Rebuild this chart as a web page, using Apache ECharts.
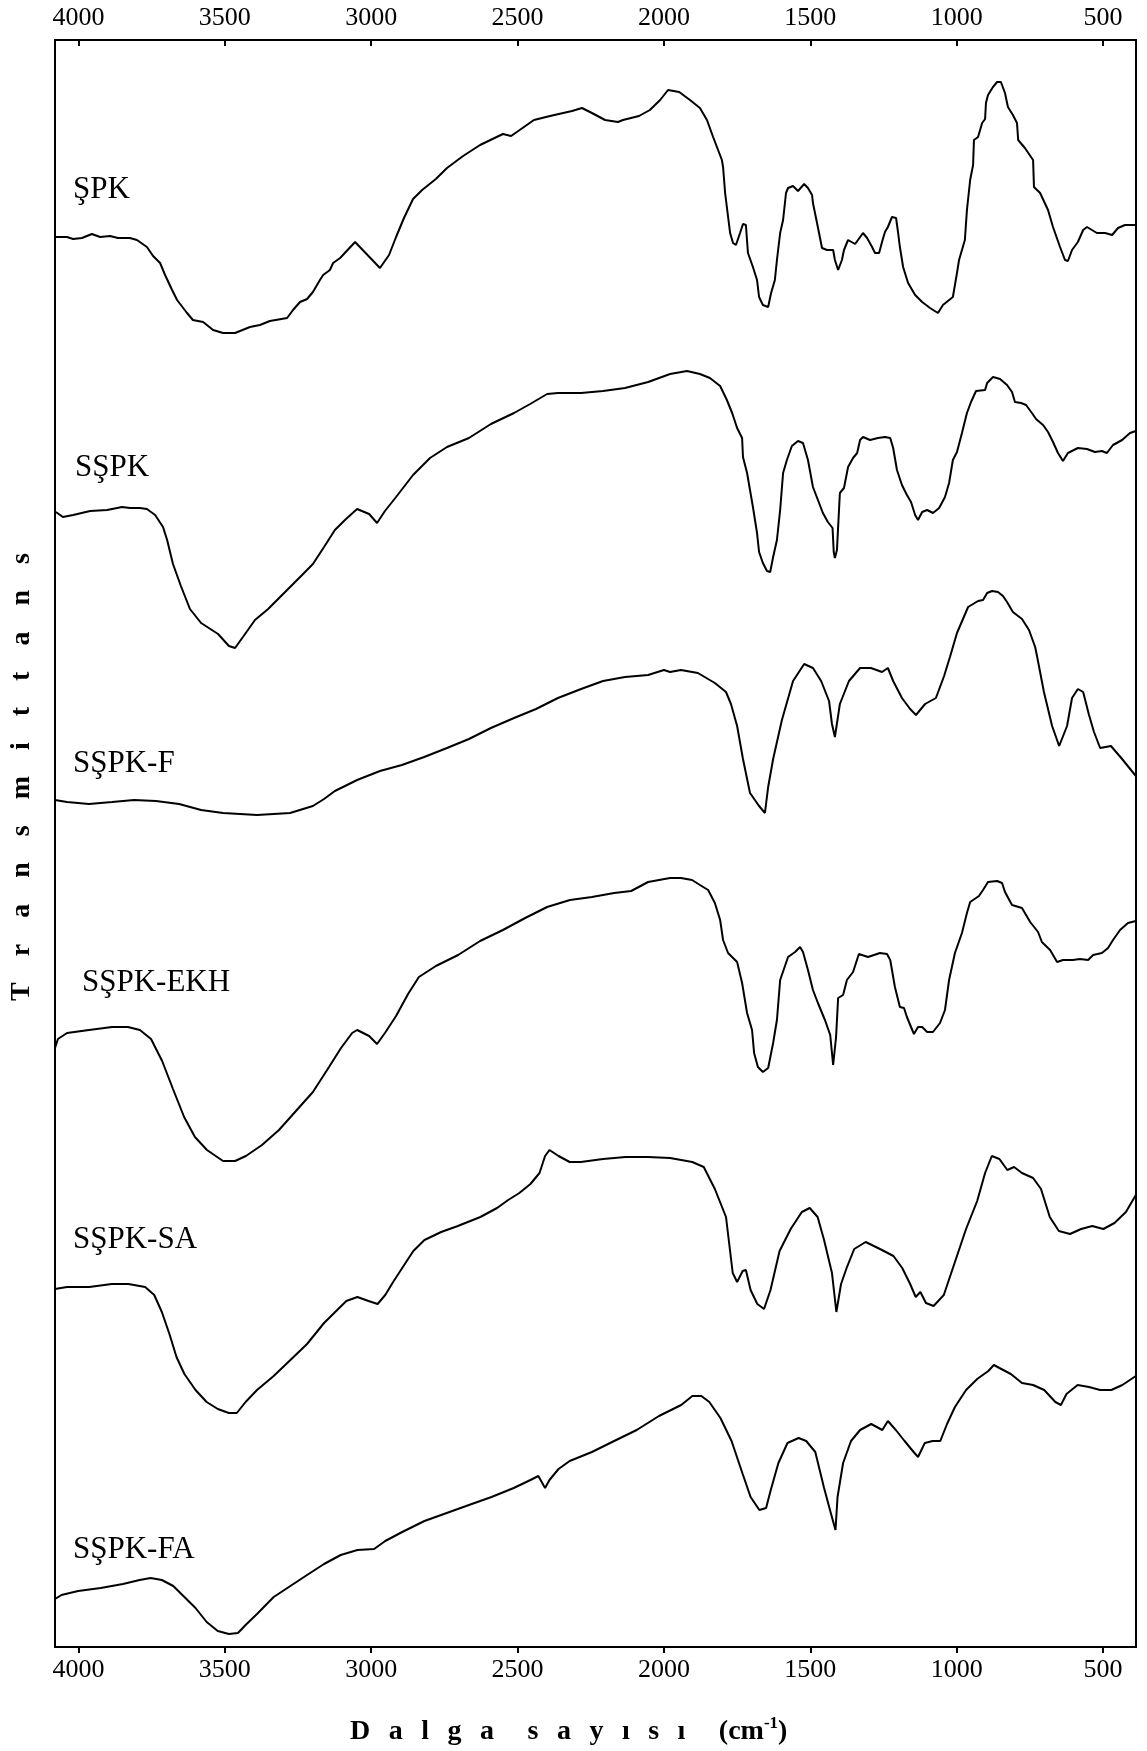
<!DOCTYPE html>
<html>
<head>
<meta charset="utf-8">
<script src="https://cdn.jsdelivr.net/npm/echarts@6/dist/echarts.min.js"></script>
<style>
  html, body { margin: 0; padding: 0; background: #fff; }
  #chart { width: 1147px; height: 1751px; }
</style>
</head>
<body>
<div id="chart"></div>
<script>
// FTIR spectra, stacked with arbitrary vertical offsets: [wavenumber (cm-1), transmittance (a.u.)]
const tickValues = [4000, 3500, 3000, 2500, 2000, 1500, 1000, 500];
const seriesNames = ['ŞPK', 'SŞPK', 'SŞPK-F', 'SŞPK-EKH', 'SŞPK-SA', 'SŞPK-FA'];

const spk = [[4077,141.0],[4039,141.0],[4018,140.8],[3988,140.9],[3954,141.3],[3926,141.0],[3892,141.1],[3865,140.9],[3824,140.9],[3800,140.7],[3766,140.0],[3745,139.1],[3721,138.4],[3704,137.2],[3680,135.7],[3663,134.7],[3629,133.4],[3609,132.7],[3574,132.5],[3540,131.7],[3506,131.4],[3465,131.4],[3448,131.6],[3414,132.0],[3380,132.2],[3346,132.6],[3287,132.9],[3267,133.7],[3243,134.5],[3219,134.8],[3199,135.5],[3175,136.7],[3164,137.2],[3141,137.7],[3130,138.4],[3106,138.9],[3055,140.5],[2970,137.9],[2939,139.2],[2915,141.0],[2888,142.9],[2857,144.8],[2826,145.7],[2779,146.8],[2741,147.9],[2686,149.1],[2628,150.2],[2550,151.3],[2522,151.1],[2444,152.7],[2389,153.1],[2314,153.6],[2280,153.9],[2246,153.4],[2201,152.7],[2157,152.5],[2140,152.7],[2085,153.1],[2048,153.7],[2013,154.7],[1986,155.7],[1948,155.5],[1911,154.7],[1877,153.9],[1853,152.7],[1832,151.0],[1802,148.7],[1798,148.0],[1791,145.4],[1774,141.4],[1764,140.4],[1754,140.2],[1740,141.4],[1730,142.3],[1720,142.2],[1713,139.4],[1696,138.0],[1682,136.7],[1675,135.0],[1662,134.2],[1644,134.0],[1634,135.4],[1621,136.7],[1614,138.7],[1603,141.4],[1593,142.7],[1583,145.4],[1576,145.9],[1559,146.1],[1542,145.6],[1521,146.3],[1508,145.9],[1494,145.2],[1491,144.4],[1477,142.4],[1460,139.9],[1443,139.7],[1422,139.7],[1416,138.7],[1405,137.7],[1392,138.7],[1385,139.7],[1371,140.7],[1347,140.3],[1320,141.4],[1306,140.9],[1289,140.0],[1279,139.4],[1265,139.4],[1255,140.5],[1245,141.5],[1235,142.0],[1221,143.0],[1207,142.9],[1200,141.4],[1194,140.0],[1183,138.0],[1166,136.4],[1142,135.2],[1118,134.5],[1091,133.9],[1064,133.4],[1047,134.2],[1013,135.0],[999,137.4],[992,138.7],[972,140.7],[965,143.7],[954,146.7],[944,148.2],[941,150.7],[927,151.0],[913,152.4],[903,152.8],[900,154.4],[893,155.2],[876,156.0],[862,156.5],[849,156.5],[835,155.4],[825,154.0],[808,153.2],[794,152.4],[790,150.7],[767,149.9],[739,148.7],[736,146.0],[715,145.4],[688,143.7],[671,142.0],[647,140.0],[630,138.7],[620,138.6],[606,139.7],[586,140.5],[568,141.7],[555,142.0],[538,141.7],[521,141.4],[493,141.4],[469,141.2],[449,141.9],[425,142.2],[388,142.2]];

const sspk = [[4077,113.5],[4053,113.0],[4018,113.2],[3960,113.6],[3902,113.7],[3851,114.0],[3824,113.9],[3790,113.9],[3766,113.8],[3738,113.2],[3711,112.0],[3697,110.7],[3677,108.3],[3650,106.1],[3619,103.8],[3581,102.4],[3523,101.3],[3486,100.1],[3465,99.9],[3438,101.0],[3397,102.7],[3352,103.8],[3294,105.5],[3236,107.2],[3199,108.3],[3161,110.0],[3124,111.7],[3086,112.8],[3048,113.8],[3007,113.3],[2980,112.4],[2953,113.6],[2915,115.0],[2857,117.2],[2799,118.9],[2741,120.0],[2666,120.9],[2591,122.3],[2512,123.4],[2457,124.3],[2399,125.3],[2362,125.4],[2283,125.4],[2208,125.6],[2133,125.9],[2054,126.5],[1979,127.3],[1921,127.6],[1877,127.3],[1843,126.9],[1808,126.1],[1785,124.7],[1767,123.4],[1750,121.9],[1733,120.9],[1730,119.0],[1716,117.4],[1706,115.7],[1696,114.0],[1682,111.4],[1675,109.5],[1662,108.4],[1648,107.6],[1637,107.5],[1627,109.0],[1614,110.7],[1603,113.7],[1593,117.4],[1580,118.7],[1563,120.1],[1542,120.6],[1525,120.4],[1508,118.7],[1491,116.0],[1474,114.7],[1457,113.4],[1440,112.5],[1424,111.9],[1420,109.5],[1416,108.9],[1409,109.7],[1399,115.4],[1385,115.9],[1371,118.0],[1354,118.9],[1340,119.4],[1330,120.7],[1320,121.0],[1296,120.7],[1269,120.9],[1245,121.0],[1227,120.9],[1217,119.9],[1204,117.7],[1187,116.2],[1170,115.2],[1156,114.5],[1142,113.2],[1132,112.7],[1118,113.5],[1101,113.7],[1081,113.4],[1060,113.9],[1040,115.0],[1026,116.4],[1013,118.7],[999,119.5],[982,121.4],[965,123.4],[951,124.5],[934,125.6],[903,125.7],[896,126.4],[876,127.0],[852,126.8],[828,126.2],[811,125.5],[801,124.5],[780,124.4],[763,124.2],[743,123.4],[729,122.8],[705,122.2],[688,121.5],[671,120.5],[654,119.4],[637,118.6],[620,119.4],[586,119.9],[555,119.8],[528,119.5],[504,119.6],[487,119.4],[466,120.2],[435,120.7],[408,121.4],[388,121.6]];

const sspkF = [[4080,84.7],[4039,84.5],[3964,84.3],[3885,84.5],[3810,84.7],[3735,84.6],[3656,84.3],[3581,83.7],[3506,83.4],[3390,83.2],[3277,83.4],[3199,84.1],[3161,84.8],[3124,85.6],[3048,86.7],[2970,87.6],[2895,88.2],[2819,89.0],[2741,89.9],[2666,90.8],[2591,91.9],[2512,92.9],[2437,93.8],[2362,94.9],[2283,95.8],[2208,96.6],[2133,97.0],[2054,97.2],[2000,97.7],[1979,97.5],[1942,97.7],[1884,97.4],[1826,96.4],[1788,95.5],[1771,94.3],[1750,92.1],[1730,88.8],[1706,85.4],[1675,84.1],[1655,83.4],[1644,86.0],[1627,88.8],[1597,92.7],[1559,96.6],[1521,98.3],[1491,97.9],[1463,96.6],[1436,94.6],[1426,92.3],[1416,91.0],[1399,94.3],[1368,96.6],[1330,97.9],[1293,97.9],[1255,97.5],[1235,97.9],[1217,96.6],[1187,94.9],[1159,93.8],[1139,93.2],[1108,94.3],[1071,94.9],[1043,97.1],[1023,99.0],[999,101.4],[961,104.0],[927,104.6],[910,104.7],[896,105.4],[879,105.6],[859,105.5],[842,105.1],[828,104.5],[808,103.5],[777,102.8],[753,101.7],[732,100.0],[725,99.0],[702,95.5],[674,92.1],[650,90.1],[623,92.1],[606,94.9],[586,95.8],[568,95.5],[548,93.2],[531,91.5],[510,89.9],[473,90.1],[435,88.8],[388,87.1]];

const sspkEKH = [[4080,59.9],[4070,60.8],[4039,61.4],[3964,61.7],[3885,62.0],[3831,62.0],[3790,61.7],[3752,60.8],[3714,58.6],[3677,55.8],[3639,53.0],[3602,51.0],[3561,49.7],[3506,48.6],[3465,48.6],[3428,49.1],[3373,50.2],[3315,51.7],[3257,53.6],[3199,55.5],[3144,58.0],[3103,59.9],[3065,61.4],[3048,61.7],[3007,61.1],[2980,60.3],[2953,61.4],[2915,63.1],[2874,65.3],[2837,67.0],[2779,68.1],[2703,69.2],[2628,70.6],[2550,71.7],[2474,72.9],[2399,74.0],[2321,74.7],[2246,75.0],[2170,75.4],[2112,75.6],[2054,76.5],[2017,76.7],[1979,76.9],[1942,76.9],[1904,76.7],[1877,76.2],[1849,75.7],[1826,74.4],[1808,72.7],[1798,70.7],[1781,69.4],[1750,68.5],[1733,66.4],[1716,63.4],[1699,61.7],[1692,59.4],[1679,58.0],[1662,57.5],[1644,57.9],[1627,60.4],[1614,62.7],[1603,66.7],[1576,69.0],[1552,69.5],[1535,70.0],[1525,69.5],[1508,67.7],[1491,65.7],[1474,64.4],[1450,62.7],[1432,61.2],[1422,58.2],[1412,61.0],[1405,64.9],[1388,65.2],[1375,66.7],[1354,67.5],[1334,69.3],[1303,69.0],[1262,69.4],[1238,69.3],[1227,68.7],[1211,66.0],[1194,64.0],[1180,63.9],[1170,63.0],[1156,62.0],[1146,61.3],[1132,62.0],[1118,62.0],[1101,61.5],[1081,61.5],[1057,62.4],[1040,63.7],[1026,66.7],[1006,69.4],[982,71.4],[965,73.4],[954,74.5],[924,75.1],[910,75.7],[893,76.5],[862,76.6],[845,76.4],[835,75.5],[811,74.2],[777,73.9],[767,73.4],[749,72.5],[722,71.5],[709,70.5],[681,69.7],[657,68.5],[637,68.7],[603,68.7],[579,68.8],[551,68.7],[534,69.2],[504,69.4],[483,69.9],[466,70.7],[442,71.7],[415,72.4],[388,72.6]];

const sspkSA = [[4080,35.8],[4039,36.0],[3963,36.0],[3886,36.3],[3829,36.3],[3772,36.0],[3741,35.2],[3715,33.5],[3688,31.2],[3665,29.0],[3638,27.3],[3600,25.7],[3562,24.5],[3524,23.8],[3486,23.4],[3459,23.4],[3429,24.5],[3390,25.7],[3333,27.1],[3276,28.7],[3219,30.3],[3161,32.4],[3123,33.5],[3085,34.6],[3047,35.0],[3009,34.6],[2978,34.3],[2952,35.2],[2925,36.5],[2894,37.9],[2856,39.6],[2818,40.7],[2761,41.5],[2704,42.1],[2627,43.0],[2570,43.9],[2532,44.7],[2494,45.4],[2456,46.3],[2425,47.4],[2406,49.1],[2391,49.7],[2360,49.1],[2341,48.8],[2322,48.5],[2284,48.5],[2208,48.8],[2131,49.0],[2055,49.0],[1979,48.9],[1903,48.5],[1864,48.0],[1826,45.8],[1788,43.0],[1765,37.4],[1750,36.5],[1731,37.6],[1720,37.7],[1704,35.7],[1681,34.3],[1658,33.8],[1636,35.7],[1605,39.6],[1567,41.8],[1529,43.5],[1502,43.9],[1475,43.0],[1453,40.7],[1426,37.4],[1411,33.5],[1395,36.3],[1376,37.9],[1350,39.8],[1311,40.5],[1262,39.8],[1216,39.1],[1186,37.9],[1159,36.3],[1140,35.0],[1124,35.5],[1105,34.4],[1079,34.1],[1044,35.2],[1006,38.5],[968,41.8],[930,44.6],[903,47.4],[880,49.1],[854,48.8],[827,47.7],[804,48.0],[777,47.4],[739,46.9],[712,45.8],[682,43.0],[651,41.6],[613,41.3],[575,41.8],[537,42.1],[499,41.8],[461,42.4],[422,43.5],[388,45.2]];

const sspkFA = [[4080,4.8],[4058,5.2],[4001,5.6],[3924,5.9],[3848,6.3],[3791,6.7],[3753,6.9],[3715,6.7],[3676,6.1],[3638,5.0],[3600,3.9],[3562,2.5],[3524,1.6],[3486,1.3],[3455,1.4],[3429,2.2],[3390,3.3],[3333,5.0],[3276,6.1],[3219,7.2],[3161,8.3],[3104,9.2],[3047,9.7],[2990,9.8],[2952,10.6],[2894,11.5],[2818,12.6],[2742,13.4],[2666,14.2],[2589,15.0],[2513,15.9],[2456,16.7],[2429,17.1],[2406,15.9],[2391,16.7],[2360,17.8],[2322,18.6],[2246,19.5],[2170,20.6],[2093,21.7],[2017,23.1],[1941,24.2],[1903,25.1],[1872,25.1],[1845,24.5],[1807,22.9],[1769,20.6],[1731,17.3],[1704,15.0],[1674,13.7],[1651,13.9],[1636,15.6],[1609,18.4],[1578,20.4],[1540,20.9],[1514,20.6],[1483,19.5],[1453,15.9],[1430,13.4],[1414,11.7],[1407,15.0],[1388,18.4],[1361,20.6],[1330,21.7],[1292,22.3],[1254,21.7],[1235,22.6],[1208,21.7],[1178,20.6],[1147,19.5],[1132,19.0],[1109,20.4],[1082,20.6],[1056,20.6],[1033,22.3],[1006,24.0],[968,25.7],[930,26.8],[892,27.6],[873,28.2],[854,27.9],[815,27.3],[777,26.4],[739,26.2],[701,25.7],[663,24.5],[644,24.2],[625,25.3],[587,26.2],[548,26.0],[510,25.7],[472,25.7],[434,26.2],[388,27.1]];

const spectra = [spk, sspk, sspkF, sspkEKH, sspkSA, sspkFA];

// Layout of the in-plot sample labels (pixel anchor: left, vertical middle)
const labelAnchors = [[73, 190], [75, 468], [73, 764], [82, 983], [73, 1240], [73, 1550]];

const serif = '"Liberation Serif", "Times New Roman", serif';

// Letter-spaced bold titles built from rich-text runs
function spaced(word) {
  return Array.from(word).map(ch => '{t|' + ch + '}').join('{g| }');
}
const xTitleText = spaced('Dalga') + '{w| }' + spaced('sayısı') + '{w| }' + '{t|(cm}{sup|-1}{t|)}';
const yTitleText = spaced('Transmittans');

function axisCfg(position) {
  const top = position === 'top';
  return {
    type: 'value',
    position: position,
    min: 387.5,
    max: 4080,
    inverse: true,
    axisLine: { show: false },
    axisTick: {
      show: true, inside: top, length: 6, customValues: tickValues,
      lineStyle: { color: '#000', width: 2 }
    },
    axisLabel: {
      customValues: tickValues, color: '#000', fontFamily: serif,
      fontSize: 26, margin: top ? 9 : 10,
      formatter: v => String(v)
    },
    splitLine: { show: false }
  };
}

const chart = echarts.init(document.getElementById('chart'), null, { renderer: 'canvas' });
chart.setOption({
  animation: false,
  backgroundColor: '#fff',
  grid: {
    left: 55, right: 11, top: 40, bottom: 104,
    show: true, borderColor: '#000', borderWidth: 2, backgroundColor: 'transparent'
  },
  xAxis: [axisCfg('bottom'), axisCfg('top')],
  yAxis: { type: 'value', min: 0, max: 160.7, show: false },
  series: spectra.map((data, i) => ({
    name: seriesNames[i],
    type: 'line',
    xAxisIndex: 0,
    data: data,
    showSymbol: false,
    symbol: 'none',
    lineStyle: { color: '#000', width: 2 },
    z: 3
  })),
  graphic: [
    ...seriesNames.map((name, i) => ({
      type: 'text',
      x: labelAnchors[i][0],
      y: labelAnchors[i][1],
      style: {
        text: name, fill: '#000', fontFamily: serif, fontSize: 31,
        align: 'left', verticalAlign: 'middle'
      }
    })),
    {
      type: 'text',
      x: 350, y: 1732,
      style: {
        text: xTitleText, align: 'left', verticalAlign: 'middle', fill: '#000',
        rich: {
          t: { fontFamily: serif, fontWeight: 'bold', fontSize: 28, fill: '#000', lineHeight: 34 },
          g: { fontFamily: serif, fontWeight: 'bold', fontSize: 74, lineHeight: 34 },
          w: { fontFamily: serif, fontWeight: 'bold', fontSize: 134, lineHeight: 34 },
          sup: { fontFamily: serif, fontWeight: 'bold', fontSize: 17, fill: '#000', lineHeight: 34, verticalAlign: 'top', padding: [0, 0, 14, 0] }
        }
      }
    },
    {
      type: 'text',
      x: 22, y: 777,
      rotation: Math.PI / 2,
      style: {
        text: yTitleText, align: 'center', verticalAlign: 'middle', fill: '#000',
        rich: {
          t: { fontFamily: serif, fontWeight: 'bold', fontSize: 28, fill: '#000', lineHeight: 34 },
          g: { fontFamily: serif, fontWeight: 'bold', fontSize: 104, lineHeight: 34 }
        }
      }
    }
  ]
});
</script>
</body>
</html>
